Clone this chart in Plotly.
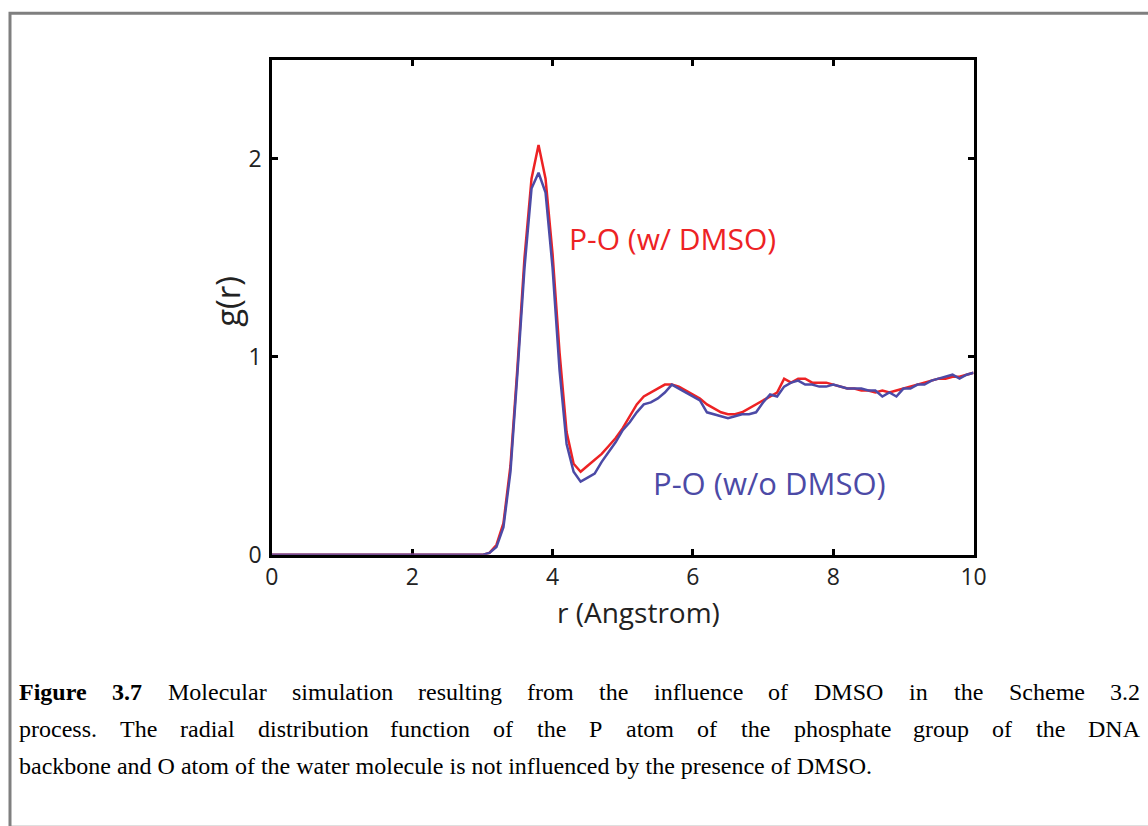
import plotly.graph_objects as go

# ---------------- data ----------------
r = [0.0, 1.0, 2.0,
     3.0, 3.1, 3.2, 3.3, 3.4, 3.5, 3.6, 3.7, 3.8, 3.9,
     4.0, 4.1, 4.2, 4.3, 4.4, 4.5, 4.6, 4.7, 4.8, 4.9,
     5.0, 5.1, 5.2, 5.3, 5.4, 5.5, 5.6, 5.7, 5.8, 5.9,
     6.0, 6.1, 6.2, 6.3, 6.4, 6.5, 6.6, 6.7, 6.8, 6.9,
     7.0, 7.1, 7.2, 7.3, 7.4, 7.5, 7.6, 7.7, 7.8, 7.9,
     8.0, 8.1, 8.2, 8.3, 8.4, 8.5, 8.6, 8.7, 8.8, 8.9,
     9.0, 9.1, 9.2, 9.3, 9.4, 9.5, 9.6, 9.7, 9.8, 9.9,
     10.0]

g_with_dmso = [0.0, 0.0, 0.0,
     0.0, 0.01, 0.05, 0.16, 0.45, 0.95, 1.50, 1.90, 2.07, 1.90,
     1.52, 1.02, 0.62, 0.46, 0.42, 0.45, 0.48, 0.51, 0.55, 0.59,
     0.64, 0.70, 0.76, 0.80, 0.82, 0.84, 0.86, 0.86, 0.85, 0.83,
     0.81, 0.79, 0.76, 0.74, 0.72, 0.71, 0.71, 0.72, 0.74, 0.76,
     0.78, 0.80, 0.82, 0.89, 0.87, 0.89, 0.89, 0.87, 0.87, 0.87,
     0.86, 0.85, 0.84, 0.84, 0.83, 0.83, 0.82, 0.83, 0.82, 0.83,
     0.84, 0.85, 0.86, 0.87, 0.88, 0.89, 0.89, 0.90, 0.90, 0.91,
     0.92]

g_without_dmso = [0.0, 0.0, 0.0,
     0.0, 0.01, 0.04, 0.14, 0.42, 0.92, 1.45, 1.85, 1.93, 1.83,
     1.45, 0.93, 0.56, 0.42, 0.37, 0.39, 0.41, 0.47, 0.52, 0.57,
     0.63, 0.67, 0.72, 0.76, 0.77, 0.79, 0.82, 0.86, 0.84, 0.82,
     0.80, 0.78, 0.72, 0.71, 0.70, 0.69, 0.70, 0.71, 0.71, 0.72,
     0.77, 0.81, 0.80, 0.85, 0.87, 0.88, 0.86, 0.86, 0.85, 0.85,
     0.86, 0.85, 0.84, 0.84, 0.84, 0.83, 0.83, 0.80, 0.82, 0.80,
     0.84, 0.84, 0.86, 0.86, 0.88, 0.89, 0.90, 0.91, 0.89, 0.91,
     0.92]

x_ticks = [0, 2, 4, 6, 8, 10]
y_ticks = [0, 1, 2]
x_title = "r (Angstrom)"
y_title = "g(r)"
label_with = "P-O (w/ DMSO)"
label_without = "P-O (w/o DMSO)"

caption_lines = [
    "Figure 3.7 Molecular simulation resulting from the influence of DMSO in the Scheme 3.2",
    "process. The radial distribution function of the P atom of the phosphate group of the DNA",
    "backbone and O atom of the water molecule is not influenced by the presence of DMSO.",
]

# ---------------- styling ----------------
W, H = 1148, 826
RED = "rgb(237,34,36)"
BLUE = "rgb(76,74,166)"
SANS = "Open Sans"
SERIF = "Liberation Serif"

# calibration of page rendering (observed offset/scale of the photographed page)
SX, OX = 0.983, 6.0
SY, OY = 0.986, -2.2


def px(x):
    return ((x - OX) / SX) / W


def py(y):
    return 1 - ((y - OY) / SY) / H


fig = go.Figure()
fig.add_trace(go.Scatter(x=r, y=g_with_dmso, mode="lines",
                         line=dict(color=RED, width=2.5), showlegend=False))
fig.add_trace(go.Scatter(x=r, y=g_without_dmso, mode="lines",
                         line=dict(color=BLUE, width=2.5), showlegend=False))

axis_common = dict(showline=True, linecolor="black", linewidth=2.5,
                   mirror="ticks", ticks="inside", ticklen=6, tickwidth=2.5,
                   tickcolor="black", showgrid=False, zeroline=False,
                   layer="below traces",
                   tickfont=dict(family=SANS, size=23, color="#222222"))

fig.update_xaxes(range=[0, 10], tickvals=x_ticks, domain=[px(271), px(973)],
                 ticklabelstandoff=0, **axis_common)
fig.update_yaxes(range=[0, 2.5], tickvals=y_ticks,
                 domain=[py(555), py(58)], ticklabelstandoff=3, **axis_common)

annotations = [
    dict(text=y_title, x=px(227), y=py(300), xref="paper", yref="paper",
         xanchor="center", yanchor="middle",
         textangle=-90, showarrow=False,
         font=dict(family=SANS, size=33, color="#222222")),
    dict(text=x_title, x=px(638), y=py(612), xref="paper", yref="paper",
         xanchor="center", yanchor="middle",
         showarrow=False, font=dict(family=SANS, size=28, color="#222222")),
    dict(text=label_with, x=px(672), y=py(237), xref="paper", yref="paper",
         xanchor="center", yanchor="middle",
         showarrow=False, font=dict(family=SANS, size=30, color=RED)),
    dict(text=label_without, x=px(769), y=py(483), xref="paper", yref="paper",
         xanchor="center", yanchor="middle",
         showarrow=False, font=dict(family=SANS, size=31, color=BLUE)),
]

# Times-metric advance widths (per 1000 em) for justified caption layout
REG = {" ": 250, ".": 250, ",": 250,
       "a": 444, "b": 500, "c": 444, "d": 500, "e": 444, "f": 333, "g": 500,
       "h": 500, "i": 278, "j": 278, "k": 500, "l": 278, "m": 778, "n": 500,
       "o": 500, "p": 500, "q": 500, "r": 333, "s": 389, "t": 278, "u": 500,
       "v": 500, "w": 722, "x": 500, "y": 500, "z": 444,
       "A": 722, "B": 667, "C": 667, "D": 722, "E": 611, "F": 556, "G": 722,
       "H": 722, "I": 333, "J": 389, "K": 722, "L": 611, "M": 889, "N": 722,
       "O": 722, "P": 556, "Q": 722, "R": 667, "S": 556, "T": 611, "U": 722,
       "V": 722, "W": 944, "X": 722, "Y": 722, "Z": 611}
BOLD = {"F": 611, "i": 278, "g": 500, "u": 556, "r": 444, "e": 444, ".": 250}


def word_width(word, bold, size):
    tot = 0
    for ch in word:
        if ch.isdigit():
            tot += 500
        elif bold and ch in BOLD:
            tot += BOLD[ch]
        else:
            tot += REG.get(ch, 500)
    return tot * size / 1000.0


CAP_SIZE = 24
left, right = 17, 1138
line_y = [693, 730, 767]
for li, line in enumerate(caption_lines):
    words = line.split(" ")
    bolds = [li == 0 and wi < 2 for wi in range(len(words))]
    if li < 2:
        widths = [word_width(w, b, CAP_SIZE) * SX for w, b in zip(words, bolds)]
        gap = (right - left - sum(widths)) / (len(words) - 1)
        xpos = left
        for w, b, wd in zip(words, bolds, widths):
            annotations.append(dict(
                text=f"<b>{w}</b>" if b else w, x=px(xpos), y=py(line_y[li]),
                xref="paper", yref="paper", xanchor="left", yanchor="middle",
                showarrow=False, borderpad=0,
                font=dict(family=SERIF, size=CAP_SIZE, color="black")))
            xpos += wd + gap
    else:
        annotations.append(dict(
            text=line, x=px(left), y=py(line_y[li]),
            xref="paper", yref="paper", xanchor="left", yanchor="middle",
            showarrow=False, borderpad=0,
            font=dict(family=SERIF, size=CAP_SIZE, color="black")))

shapes = [dict(type="rect", xref="paper", yref="paper",
               x0=px(9), y0=py(11), x1=1.02, y1=-0.02,
               line=dict(color="#7f7f7f", width=3), layer="below")]

fig.update_layout(width=W, height=H, margin=dict(l=0, r=0, t=0, b=0),
                  paper_bgcolor="white", plot_bgcolor="white",
                  annotations=annotations, shapes=shapes, showlegend=False)

fig.write_html("out.html")
